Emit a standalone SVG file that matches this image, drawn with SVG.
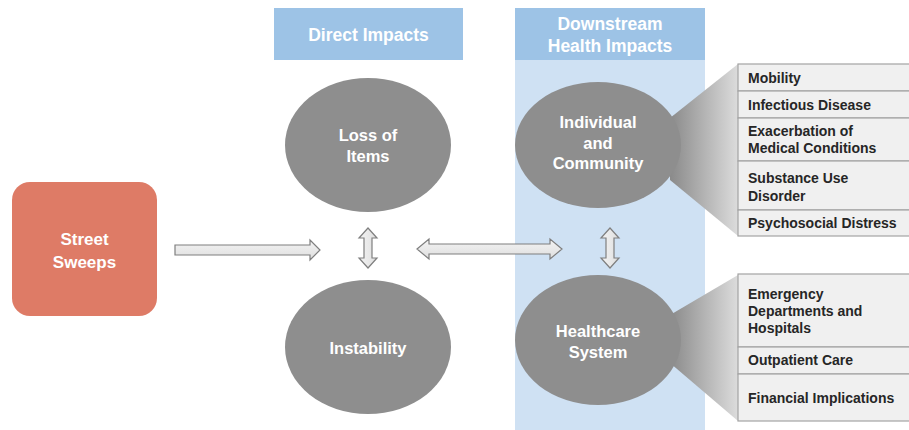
<svg xmlns="http://www.w3.org/2000/svg" width="909" height="430" viewBox="0 0 909 430">
<defs>
<linearGradient id="fan" x1="0" y1="0" x2="1" y2="0">
<stop offset="0" stop-color="#8a8a8a"/>
<stop offset="1" stop-color="#dcdcdc"/>
</linearGradient>
<linearGradient id="arr" x1="0" y1="0" x2="0" y2="1">
<stop offset="0" stop-color="#f4f4f4"/>
<stop offset="1" stop-color="#dedede"/>
</linearGradient>
<linearGradient id="arrv" x1="0" y1="0" x2="1" y2="0">
<stop offset="0" stop-color="#f4f4f4"/>
<stop offset="1" stop-color="#dedede"/>
</linearGradient>
</defs>
<style>
.hdr{fill:#9dc3e6}
.col{fill:#cfe1f3}
.ell{fill:#8e8e8e}
.wt{font-family:"Liberation Sans",Arial,sans-serif;font-weight:bold;fill:#ffffff;text-anchor:middle}
.lt{font-family:"Liberation Sans",Arial,sans-serif;font-weight:bold;fill:#262626;font-size:14px}
.row{fill:#f0f0f0;stroke:#a3a3a3;stroke-width:1.2}
.arrow{fill:url(#arr);stroke:#7f7f7f;stroke-width:1.2}
.arrowv{fill:url(#arrv);stroke:#7f7f7f;stroke-width:1.2}
</style>
<rect width="909" height="430" fill="#ffffff"/>
<g id="col-direct">
<rect class="hdr" x="274" y="8" width="189" height="52"/>
<text class="wt" x="368.5" y="41" font-size="17.5">Direct Impacts</text>
</g>
<g id="col-downstream">
<rect class="col" x="515" y="60" width="190" height="370"/>
<rect class="hdr" x="515" y="8" width="190" height="52"/>
<text class="wt" x="610" y="30" font-size="17.5">Downstream</text>
<text class="wt" x="610" y="52" font-size="17.5">Health Impacts</text>
</g>
<g id="street-sweeps">
<rect x="12" y="182" width="145" height="134" rx="18" fill="#de7b66"/>
<text class="wt" x="84.5" y="245" font-size="17">Street</text>
<text class="wt" x="84.5" y="268" font-size="17">Sweeps</text>
</g>
<g id="loss-of-items">
<ellipse class="ell" cx="368" cy="145" rx="83" ry="67"/>
<text class="wt" x="368" y="141" font-size="16.5">Loss of</text>
<text class="wt" x="368" y="162" font-size="16.5">Items</text>
</g>
<g id="instability">
<ellipse class="ell" cx="368" cy="347" rx="83" ry="67"/>
<text class="wt" x="368" y="354" font-size="16.5">Instability</text>
</g>
<g id="fans">
<polygon points="670,118 738,64 738,236 670,180" fill="url(#fan)"/>
<polygon points="670,315 738,275 738,421 670,363" fill="url(#fan)"/>
</g>
<g id="individual-community">
<ellipse class="ell" cx="598" cy="145" rx="83" ry="63"/>
<text class="wt" x="598" y="128" font-size="16.5">Individual</text>
<text class="wt" x="598" y="149" font-size="16.5">and</text>
<text class="wt" x="598" y="169" font-size="16.5">Community</text>
</g>
<g id="healthcare-system">
<ellipse class="ell" cx="598" cy="340" rx="83" ry="65"/>
<text class="wt" x="598" y="337" font-size="16.5">Healthcare</text>
<text class="wt" x="598" y="358" font-size="16.5">System</text>
</g>
<g id="list-individual">
<rect class="row" x="738" y="64" width="175" height="27"/>
<rect class="row" x="738" y="91" width="175" height="27"/>
<rect class="row" x="738" y="118" width="175" height="43"/>
<rect class="row" x="738" y="161" width="175" height="49"/>
<rect class="row" x="738" y="210" width="175" height="26"/>
<text class="lt" x="748" y="83">Mobility</text>
<text class="lt" x="748" y="110">Infectious Disease</text>
<text class="lt" x="748" y="136">Exacerbation of</text>
<text class="lt" x="748" y="153">Medical Conditions</text>
<text class="lt" x="748" y="183">Substance Use</text>
<text class="lt" x="748" y="201">Disorder</text>
<text class="lt" x="748" y="228">Psychosocial Distress</text>
</g>
<g id="list-healthcare">
<rect class="row" x="738" y="274" width="175" height="73"/>
<rect class="row" x="738" y="347" width="175" height="27"/>
<rect class="row" x="738" y="374" width="175" height="47"/>
<text class="lt" x="748" y="299">Emergency</text>
<text class="lt" x="748" y="316">Departments and</text>
<text class="lt" x="748" y="333">Hospitals</text>
<text class="lt" x="748" y="365">Outpatient Care</text>
<text class="lt" x="748" y="403">Financial Implications</text>
</g>
<g id="connectors">
<polygon class="arrow" points="175,245 310,245 310,240 320,250 310,260 310,255 175,255"/>
<polygon class="arrow" points="417,249 429,239 429,244 550,244 550,239 562,249 550,259 550,254 429,254 429,259"/>
<polygon class="arrowv" points="368,228 377,238 372,238 372,258 377,258 368,268 359,258 364,258 364,238 359,238"/>
<polygon class="arrowv" points="610,228 619,238 614,238 614,258 619,258 610,268 601,258 606,258 606,238 601,238"/>
</g>
</svg>
